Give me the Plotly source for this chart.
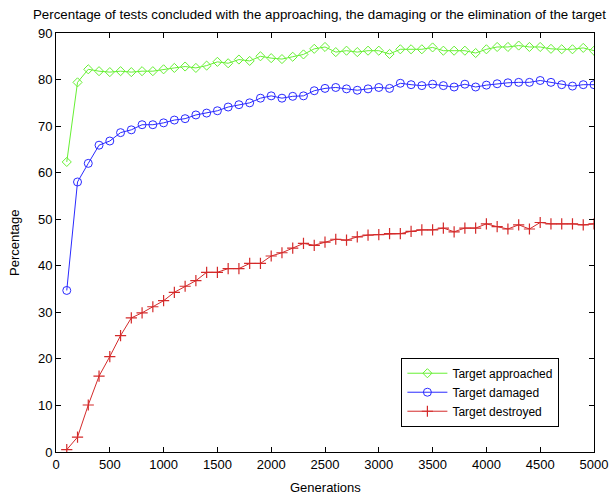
import plotly.graph_objects as go

generations = list(range(100, 5001, 100))

approached = [62.3, 79.4, 82.2, 81.8, 81.6, 81.8, 81.6, 81.8, 81.8, 82.2,
              82.5, 82.8, 82.5, 83.0, 83.8, 83.5, 84.3, 84.0, 85.0, 84.6,
              84.4, 84.9, 85.4, 86.6, 87.0, 85.9, 86.2, 85.9, 86.2, 86.2,
              85.5, 86.5, 86.5, 86.5, 86.9, 86.2, 86.2, 86.2, 85.7, 86.5,
              87.0, 87.0, 87.3, 87.0, 87.0, 86.6, 86.5, 86.5, 86.8, 86.2]

damaged = [34.7, 58.0, 62.0, 65.9, 66.8, 68.6, 69.2, 70.3, 70.3, 70.7,
           71.3, 71.6, 72.4, 72.8, 73.3, 74.1, 74.6, 75.0, 76.0, 76.5,
           76.0, 76.4, 76.5, 77.6, 78.1, 78.3, 78.0, 77.7, 78.0, 78.3,
           78.1, 79.2, 78.9, 78.7, 79.0, 78.7, 78.4, 79.0, 78.4, 78.8,
           79.1, 79.3, 79.4, 79.4, 79.8, 79.4, 78.9, 78.6, 78.9, 78.9]

destroyed = [0.5, 3.2, 10.1, 16.3, 20.5, 25.0, 28.8, 29.9, 31.2, 32.5,
             34.3, 35.6, 36.8, 38.6, 38.6, 39.4, 39.4, 40.5, 40.5, 42.1,
             42.8, 43.8, 44.8, 44.4, 45.1, 45.7, 45.5, 46.2, 46.6, 46.7,
             46.9, 46.9, 47.4, 47.7, 47.7, 48.1, 47.3, 48.1, 48.1, 49.0,
             48.4, 47.9, 48.8, 47.9, 49.3, 49.0, 49.0, 49.0, 48.8, 49.0]

x_ticks = list(range(0, 5001, 500))
y_ticks = list(range(0, 91, 10))

title_text = "Percentage of tests concluded with the approaching, the damaging or the elimination of the target"
x_title = "Generations"
y_title = "Percentage"

font_family = "Liberation Sans, Arial, sans-serif"

fig = go.Figure()
fig.add_trace(go.Scatter(
    x=generations, y=approached, mode="lines+markers", name="Target approached",
    line=dict(color="#66f033", width=1),
    marker=dict(symbol="diamond-open", size=7, color="#66f033", line=dict(width=1)),
))
fig.add_trace(go.Scatter(
    x=generations, y=damaged, mode="lines+markers", name="Target damaged",
    line=dict(color="#2a2aff", width=1),
    marker=dict(symbol="circle-open", size=8, color="#2a2aff", line=dict(width=1)),
))
fig.add_trace(go.Scatter(
    x=generations, y=destroyed, mode="lines+markers", name="Target destroyed",
    line=dict(color="#d42a2a", width=1),
    marker=dict(symbol="cross-thin-open", size=8, color="#d42a2a", line=dict(width=1.2, color="#d42a2a")),
))

axis_common = dict(
    showline=True, linecolor="black", linewidth=1, mirror="ticks",
    ticks="inside", ticklen=5, tickcolor="black", tickwidth=1,
    showgrid=False, zeroline=False, automargin=False,
    tickfont=dict(family=font_family, size=13, color="black"),
)

fig.update_layout(
    width=610, height=496,
    margin=dict(l=55.5, r=15.5, t=32.5, b=43.5),
    paper_bgcolor="white", plot_bgcolor="white",
    font=dict(family=font_family, size=12, color="black"),
    showlegend=True,
    legend=dict(
        x=0.642, y=0.225, xanchor="left", yanchor="top",
        bgcolor="white", bordercolor="black", borderwidth=1,
        font=dict(family=font_family, size=12, color="black"),
        tracegroupgap=0, itemwidth=40,
    ),
    xaxis=dict(range=[0, 5000], tickvals=x_ticks, ticktext=[str(v) for v in x_ticks], **axis_common),
    yaxis=dict(range=[0, 90], tickvals=y_ticks, ticktext=[str(v) for v in y_ticks], **axis_common),
    annotations=[
        dict(text=title_text, xref="paper", yref="paper", x=0.49, y=1.0,
             xanchor="center", yanchor="middle", yshift=18.5, showarrow=False,
             font=dict(family=font_family, size=13.3, color="black")),
        dict(text=x_title, xref="paper", yref="paper", x=0.5, y=0.0,
             xanchor="center", yanchor="middle", yshift=-35.5, showarrow=False,
             font=dict(family=font_family, size=13, color="black")),
        dict(text=y_title, xref="paper", yref="paper", x=0.0, y=0.5, textangle=-90,
             xanchor="center", yanchor="middle", xshift=-41.5, showarrow=False,
             font=dict(family=font_family, size=13, color="black")),
    ],
)

fig.write_html("out.html")
